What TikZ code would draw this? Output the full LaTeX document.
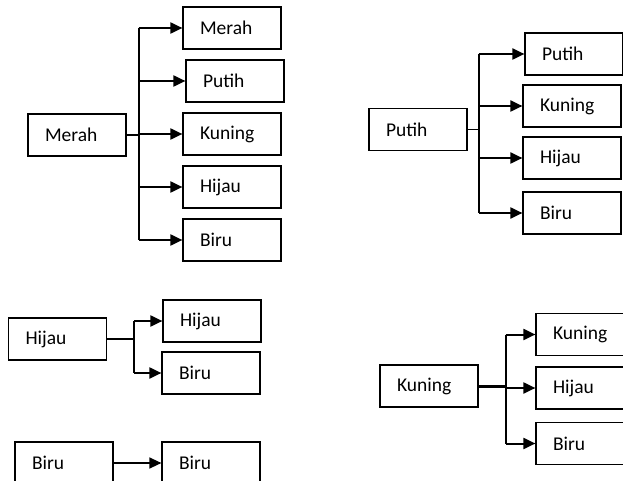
\documentclass[tikz,border=0pt]{standalone}
\usepackage{fontspec}
\setmainfont{Carlito}
\usetikzlibrary{arrows.meta,positioning}
\tikzset{
  kotak/.style={draw, line width=1.2pt, minimum height=42pt, text width=64pt,
    inner xsep=17pt, inner ysep=0pt, align=left, font=\fontsize{19.5}{22}\selectfont},
  garis/.style={line width=2pt},
  panah/.style={line width=2pt, -{Triangle[length=12pt,width=11pt]}}
}
\begin{document}
\begin{tikzpicture}[x=1pt, y=-1pt, line cap=butt, line join=miter]
  \clip (0,0) rectangle (623,481);
  % kelompok merah
  \node[kotak] (m0) at (77,135) {Merah};
  \node[kotak] (m1) at (232,28) {Merah};
  \node[kotak] (m2) at (235,81) {Putih};
  \node[kotak] (m3) at (232,134) {Kuning};
  \node[kotak] (m4) at (232,187) {Hijau};
  \node[kotak] (m5) at (232,240) {Biru};
  \coordinate[right=12pt of m0.east] (mj);
  \draw[garis] (m0.east) -- (mj);
  \draw[garis] (mj |- m1.west) -- (mj |- m5.west);
  \foreach \t in {m1,m2,m3,m4,m5}
    \draw[panah] (mj |- \t.west) -- (\t.west);
  % kelompok putih
  \node[kotak] (p0) at (418,129.5) {Putih};
  \node[kotak] (p1) at (574,54) {Putih};
  \node[kotak] (p2) at (572,106) {Kuning};
  \node[kotak] (p3) at (572,158) {Hijau};
  \node[kotak] (p4) at (572,213) {Biru};
  \coordinate[right=11pt of p0.east] (pj);
  \draw[garis, line width=1.5pt] (p0.east) -- (pj);
  \draw[garis] (pj |- p1.west) -- (pj |- p4.west);
  \foreach \t in {p1,p2,p3,p4}
    \draw[panah] (pj |- \t.west) -- (\t.west);
  % kelompok hijau
  \node[kotak] (h0) at (57.5,339) {Hijau};
  \node[kotak] (h1) at (212,321) {Hijau};
  \node[kotak] (h2) at (211,373) {Biru};
  \coordinate[right=27pt of h0.east] (hj);
  \draw[garis, line width=2.5pt] (h0.east) -- (hj);
  \draw[garis] (hj |- h1.west) -- (hj |- h2.west);
  \foreach \t in {h1,h2}
    \draw[panah] (hj |- \t.west) -- (\t.west);
  % kelompok biru
  \node[kotak] (b0) at (64,463) {Biru};
  \node[kotak] (b1) at (211,463) {Biru};
  \draw[panah, line width=1.4pt] (b0) -- (b1);
  % kelompok kuning
  \node[kotak] (k0) at (429,386) {Kuning};
  \node[kotak] (k1) at (585,334.5) {Kuning};
  \node[kotak] (k2) at (585,388) {Hijau};
  \node[kotak] (k3) at (585,443.5) {Biru};
  \coordinate[right=27pt of k0.east] (kj);
  \draw[garis, line width=3pt] (k0.east) -- (kj);
  \draw[garis] (kj |- k1.west) -- (kj |- k3.west);
  \foreach \t in {k1,k2,k3}
    \draw[panah] (kj |- \t.west) -- (\t.west);
\end{tikzpicture}
\end{document}
